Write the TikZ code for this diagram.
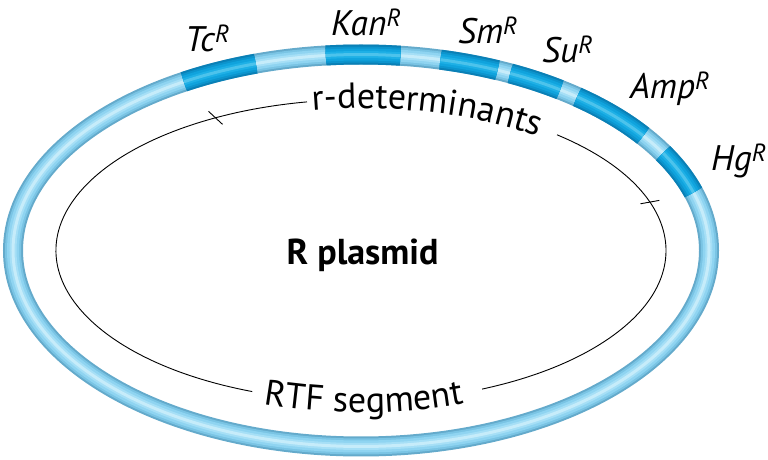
\documentclass[tikz,border=0pt]{standalone}
\usepackage{fontspec}
\setmainfont{PT Sans}
\usetikzlibrary{decorations.text}
\definecolor{ring1}{HTML}{64AACB}
\definecolor{ring2}{HTML}{7AC4E4}
\definecolor{ring3}{HTML}{8FD4F1}
\definecolor{ring4}{HTML}{A6DFF6}
\definecolor{ring5}{HTML}{C6ECFA}
\definecolor{seg1}{HTML}{0A80B6}
\definecolor{seg2}{HTML}{0C94CD}
\definecolor{seg3}{HTML}{10A3DD}
\definecolor{seg4}{HTML}{1EB0E6}
\definecolor{seg5}{HTML}{4CC3EC}
\newcommand{\ringfont}{\fontsize{36}{40}\selectfont}

\begin{document}
\begin{tikzpicture}[x=1pt,y=1pt]
	  \tikzstyle{reslabel} = [font=\fontsize{35.5}{38}\selectfont\itshape, anchor=base west, inner sep=0pt]
	  \tikzstyle{ringpath} = [x radius=348pt, y radius=196pt]
	  \tikzstyle{dnapath} = [x radius=305pt, y radius=151pt]
	  \useasboundingbox (0,0) rectangle (768,460);
	  \coordinate (ctr) at (361,209.5);
	  % the plasmid ring, lit from the upper left
	  \foreach \w/\s/\c in {20/0/ring1, 16/-1/ring2, 12/-2/ring3, 7/-3/ring4, 3/-3.5/ring5}
	    \draw[\c, line width=\w pt, shift={(\s,-\s)}] (ctr) ellipse [ringpath];
	  % resistance genes
	  \foreach \from/\to in {120.6/107.6, 95.8/83.5, 76.8/66.9, 64.6/55.1, 51.6/35.8, 29.8/17.2}
	    \foreach \w/\s/\c in {20/0/seg1, 16/-1/seg2, 12/-2/seg3, 7/-3/seg4, 3/-3.5/seg5}
	      \draw[\c, line width=\w pt, shift={(\s,-\s)}] (ctr) ++(\from:348pt and 196pt) arc [start angle=\from, end angle=\to, ringpath];
	  % inner map line with gaps for its texts
	  \draw[line width=0.9pt] (ctr) ++(50:305pt and 151pt) arc [start angle=50, end angle=-66.6, dnapath];
	  \draw[line width=0.9pt] (ctr) ++(249.1:305pt and 151pt) arc [start angle=249.1, end angle=100.2, dnapath];
	  \draw[line width=0.9pt] (ctr) ++(118.5:305pt and 151pt) +(-7,6.5) -- +(7,-6.5);
	  \draw[line width=0.9pt] (ctr) ++(18.7:305pt and 151pt) +(-9.4,-1.7) -- +(9.4,1.7);
	  \path[decorate, decoration={text along path, text align=center, text={|\ringfont|r-determinants}}]
	    (ctr) ++(110:296pt and 142pt) arc [start angle=110, end angle=40.4, x radius=296pt, y radius=142pt];
	  \path[decorate, decoration={text along path, text align=center, text={|\ringfont|RTF segment}}]
	    (ctr) ++(240:312pt and 162pt) arc [start angle=240, end angle=301.2, x radius=312pt, y radius=162pt];
	  % labels
	  \node[font=\fontsize{36}{40}\selectfont\bfseries, anchor=base] (title) at (362.5,195) {R plasmid};
	  \node[reslabel] (tc) at (185,408) {Tc\textsuperscript{R}};
	  \node[reslabel] (kan) at (331,424) {Kan\textsuperscript{R}};
	  \node[reslabel] (sm) at (458,416) {Sm\textsuperscript{R}};
	  \node[reslabel] (su) at (542,397) {Su\textsuperscript{R}};
	  \node[reslabel] (amp) at (630,361) {Amp\textsuperscript{R}};
	  \node[reslabel] (hg) at (711,289) {Hg\textsuperscript{R}};
\end{tikzpicture}
\end{document}
